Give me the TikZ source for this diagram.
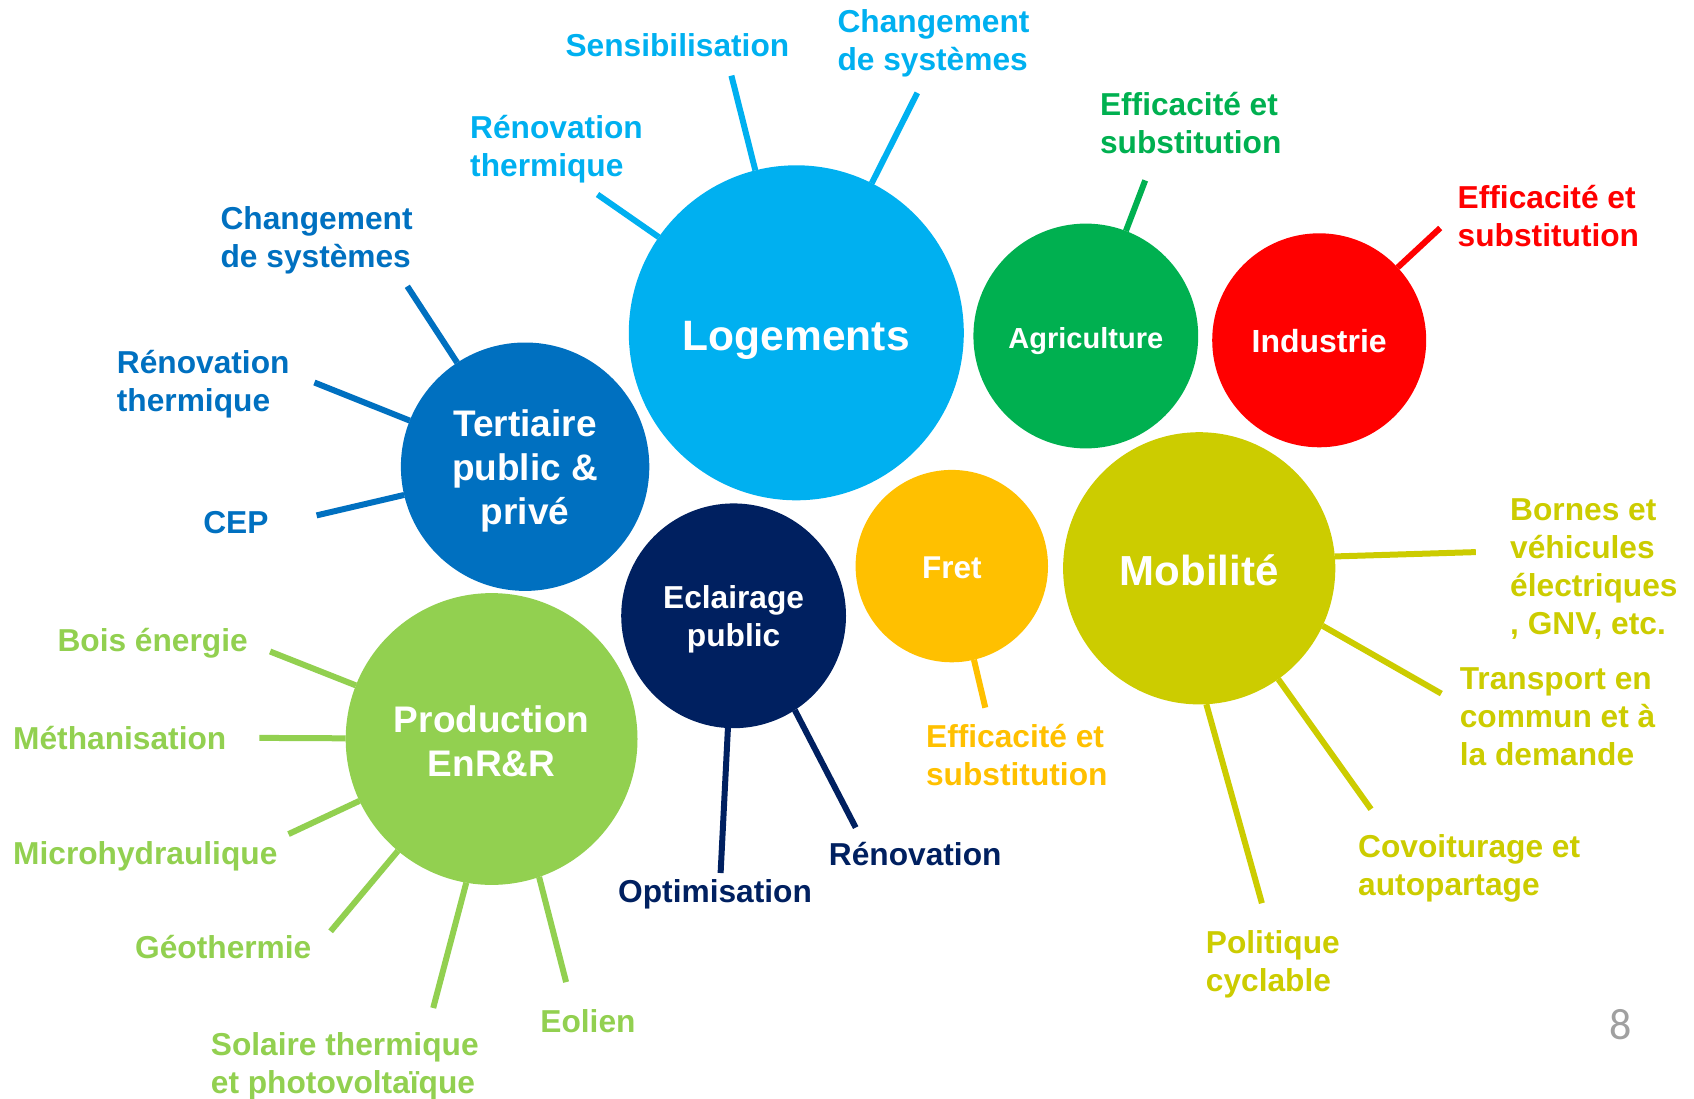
\documentclass[tikz,border=0pt]{standalone}
\usepackage{fontspec}
\setmainfont{Liberation Sans}
\newfontfamily\pagefont{Carlito}
\definecolor{cLog}{HTML}{00B0F0}
\definecolor{cAgr}{HTML}{00B050}
\definecolor{cInd}{HTML}{FF0000}
\definecolor{cTer}{HTML}{0070C0}
\definecolor{cEcl}{HTML}{002060}
\definecolor{cFret}{HTML}{FFC000}
\definecolor{cMob}{HTML}{CCCC00}
\definecolor{cProd}{HTML}{92D050}
\definecolor{cPage}{HTML}{A0A0A0}
\begin{document}
\begin{tikzpicture}[x=1pt,y=-1pt,
  bub/.style={circle, fill=#1, draw=none, inner sep=0pt, outer sep=0pt},
  btxt/.style 2 args={text=white, align=center, inner sep=0pt, font=\bfseries\fontsize{#1}{#2}\selectfont},
  lab/.style={text=#1, font=\bfseries\fontsize{31.7}{38}\selectfont, align=left, inner sep=0pt, anchor=west},
  spoke/.style={draw=#1, line width=6pt}]
\useasboundingbox (0,0) rectangle (1694,1099);

% bubbles
\node[bub=cLog, minimum size=335pt] (log) at (796.3,332.8) {};
\node[bub=cAgr, minimum size=224.8pt] (agr) at (1085.8,336.0) {};
\node[bub=cInd, minimum size=214pt] (ind) at (1319.2,340.3) {};
\node[bub=cTer, minimum size=248.4pt] (ter) at (525.1,466.7) {};
\node[bub=cEcl, minimum size=224.8pt] (ecl) at (733.6,615.8) {};
\node[bub=cFret, minimum size=192.4pt] (fret) at (951.8,566.1) {};
\node[bub=cMob, minimum size=272.2pt] (mob) at (1199.2,568.3) {};
\node[bub=cProd, minimum size=291.8pt] (prod) at (491.6,739.0) {};

\node[btxt={42.5}{50}] (logt) at (796.3,340.3) {Logements};
\node[btxt={29}{34}] (agrt) at (1085.8,341.4) {Agriculture};
\node[btxt={32}{38}] (indt) at (1319.2,341.4) {Industrie};
\node[btxt={37}{44.3}] (tert) at (525.1,471.0) {Tertiaire\\public \&\\privé};
\node[btxt={31.7}{38}] (eclt) at (733.6,619) {Eclairage\\public};
\node[btxt={31.5}{38}] (frett) at (951.8,568.3) {Fret};
\node[btxt={42}{50}] (mobt) at (1199.2,570.5) {Mobilité};
\node[btxt={37}{44.3}] (prodt) at (491.6,741.5) {Production\\EnR\&R};

% Logements
\node[lab=cLog, anchor=center] (tsens) at (677.4,45.4) {Sensibilisation};
\node[lab=cLog] (tchgL) at (837.3,43.5) {Changement\\de systèmes};
\node[lab=cLog] (trenL) at (470,149.4) {Rénovation\\thermique};
\coordinate (esens) at (731.4,75.6);
\coordinate (echgL) at (917.3,92.9);
\coordinate (erenL) at (597.5,194.5);
\draw[spoke=cLog] (esens) -- (log);
\draw[spoke=cLog] (echgL) -- (log);
\draw[spoke=cLog] (erenL) -- (log);

% Agriculture
\node[lab=cAgr] (tagr) at (1099.8,123.2) {Efficacité et\\substitution};
\coordinate (eagr) at (1145.2,180.4);
\draw[spoke=cAgr] (eagr) -- (agr);

% Industrie
\node[lab=cInd] (tind) at (1457.5,216.5) {Efficacité et\\substitution};
\coordinate (eind) at (1440.2,228);
\draw[spoke=cInd] (eind) -- (ind);

% Tertiaire
\node[lab=cTer] (tchgT) at (220.4,240.7) {Changement\\de systèmes};
\node[lab=cTer] (trenT) at (116.7,383.8) {Rénovation\\thermique};
\node[lab=cTer] (tcep) at (203.1,522.8) {CEP};
\coordinate (echgT) at (407.3,286.3);
\coordinate (erenT) at (314.4,382.5);
\coordinate (ecep) at (316.6,515.4);
\draw[spoke=cTer] (echgT) -- (ter);
\draw[spoke=cTer] (erenT) -- (ter);
\draw[spoke=cTer] (ecep) -- (ter);

% Production
\node[lab=cProd] (tbois) at (57.3,643.7) {Bois énergie};
\node[lab=cProd] (tmeth) at (13,738.4) {Méthanisation};
\node[lab=cProd] (tmicro) at (13,856.5) {Microhydraulique};
\node[lab=cProd] (tgeo) at (135,947.4) {Géothermie};
\node[lab=cProd] (tsol) at (210.7,1066.6) {Solaire thermique\\et photovoltaïque};
\node[lab=cProd] (teol) at (540.2,1021) {Eolien};
\coordinate (ebois) at (270.1,651.5);
\coordinate (emeth) at (259.3,737.9);
\coordinate (emicro) at (288.5,834.1);
\coordinate (egeo) at (330.6,931.3);
\coordinate (esol) at (433.2,1008);
\coordinate (eeol) at (566.1,982.1);
\draw[spoke=cProd] (ebois) -- (prod);
\draw[spoke=cProd] (emeth) -- (prod);
\draw[spoke=cProd] (emicro) -- (prod);
\draw[spoke=cProd] (egeo) -- (prod);
\draw[spoke=cProd] (esol) -- (prod.-100.6);
\draw[spoke=cProd] (eeol) -- (prod.-71);

% Eclairage
\node[lab=cEcl] (topt) at (618,894.3) {Optimisation};
\node[lab=cEcl] (tren) at (828.7,854.5) {Rénovation};
\coordinate (eopt) at (720.6,873);
\coordinate (eren) at (855.7,827.6);
\draw[spoke=cEcl] (eopt) -- (ecl);
\draw[spoke=cEcl] (eren) -- (ecl.-57);

% Fret
\node[lab=cFret] (tfret) at (925.9,755.2) {Efficacité et\\substitution};
\coordinate (efret) at (985.3,707.7);
\draw[spoke=cFret] (efret) -- (fret);

% Mobilite
\node[lab=cMob] (tborn) at (1510,569.5) {Bornes et\\véhicules\\électriques\\, GNV, etc.};
\node[lab=cMob] (ttrans) at (1459.6,717.2) {Transport en\\commun et à\\la demande};
\node[lab=cMob] (tcov) at (1358,868.5) {Covoiturage et\\autopartage};
\node[lab=cMob] (tvelo) at (1205.7,964.5) {Politique\\cyclable};
\coordinate (eborn) at (1475.8,552.1);
\coordinate (etrans) at (1441.3,693.6);
\coordinate (ecov) at (1371,809.2);
\coordinate (evelo) at (1261.9,903.2);
\draw[spoke=cMob] (eborn) -- (mob.5);
\draw[spoke=cMob] (etrans) -- (mob.-25);
\draw[spoke=cMob] (ecov) -- (mob);
\draw[spoke=cMob] (evelo) -- (mob.-87);

% page number
\node[text=cPage, font=\pagefont\fontsize{44}{50}\selectfont, inner sep=0pt] (pnum) at (1620.6,1024.2) {8};
\end{tikzpicture}
\end{document}
